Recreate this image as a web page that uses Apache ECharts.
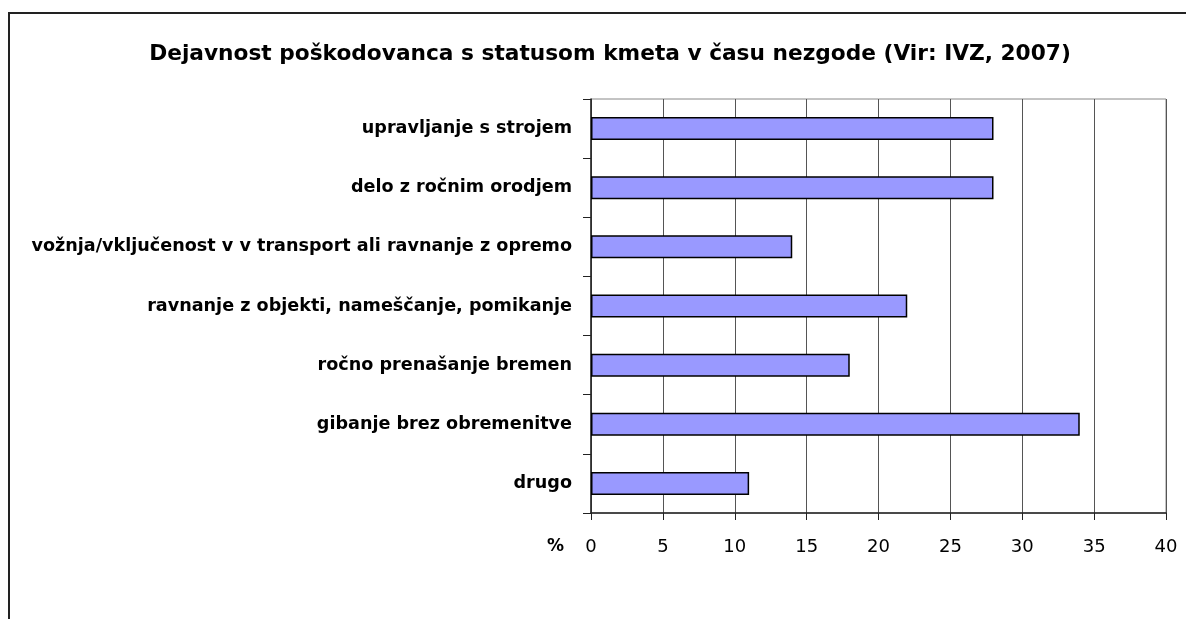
<!DOCTYPE html>
<html>
<head>
<meta charset="utf-8">
<script src="https://cdn.jsdelivr.net/npm/echarts@6/dist/echarts.min.js"></script>
<style>
  html, body { margin: 0; padding: 0; background: #fff; }
  #chart { width: 1186px; height: 619px; }
</style>
</head>
<body>
<div id="chart"></div>
<script>
// categories top to bottom, as in the reference
var categories = [
    "upravljanje s strojem",
    "delo z ročnim orodjem",
    "vožnja/vključenost v v transport ali ravnanje z opremo",
    "ravnanje z objekti, nameščanje, pomikanje",
    "ročno prenašanje bremen",
    "gibanje brez obremenitve",
    "drugo"
];
var values = [28, 28, 14, 22, 18, 34, 11];
var titleText = "Dejavnost poškodovanca s statusom kmeta v času nezgode (Vir: IVZ, 2007)";

var fontName = "DejaVu Sans, Verdana, sans-serif";
var myChart = echarts.init(document.getElementById("chart"));

var option = {
    animation: false,
    textStyle: { fontFamily: fontName },
    title: {
        text: titleText,
        left: 605,
        top: 38,
        textAlign: "center",
        textStyle: {
            fontFamily: fontName,
            fontSize: 21.7,
            fontWeight: "bold",
            color: "#000"
        }
    },
    grid: {
        left: 591,
        top: 99,
        width: 575,
        height: 414,
        show: true,
        borderColor: "#888",
        borderWidth: 1
    },
    // frame round the chart
    graphic: [{
        type: "polyline",
        shape: { points: [[9, 619], [9, 13], [1186, 13]] },
        style: { stroke: "#222", lineWidth: 2, fill: null }
    }, {
        type: "text",
        left: 547,
        top: 538,
        style: {
            text: "%",
            font: "bold 17px DejaVu Sans, Verdana, sans-serif",
            fill: "#000"
        }
    }],
    xAxis: {
        type: "value",
        min: 0,
        max: 40,
        interval: 5,
        axisLine: { show: true, lineStyle: { color: "#222", width: 1.5 } },
        axisTick: { show: true, length: 7, lineStyle: { color: "#222" } },
        axisLabel: { color: "#000", fontSize: 18, margin: 25, fontFamily: fontName },
        splitLine: { show: true, lineStyle: { color: "#555", width: 1 } }
    },
    yAxis: {
        type: "category",
        inverse: true,
        data: categories,
        axisLine: { show: true, lineStyle: { color: "#222", width: 1.5 } },
        axisTick: { show: true, length: 8, lineStyle: { color: "#222" } },
        axisLabel: { color: "#000", fontSize: 17.6, fontWeight: "bold", margin: 19, fontFamily: fontName },
        splitLine: { show: false }
    },
    series: [{
        type: "bar",
        data: values,
        barWidth: 23,
        itemStyle: {
            color: "#9999ff",
            borderColor: "#000",
            borderWidth: 1.5
        }
    }]
};

myChart.setOption(option);
window.addEventListener("resize", function() {
    myChart.resize();
});
</script>
</body>
</html>
